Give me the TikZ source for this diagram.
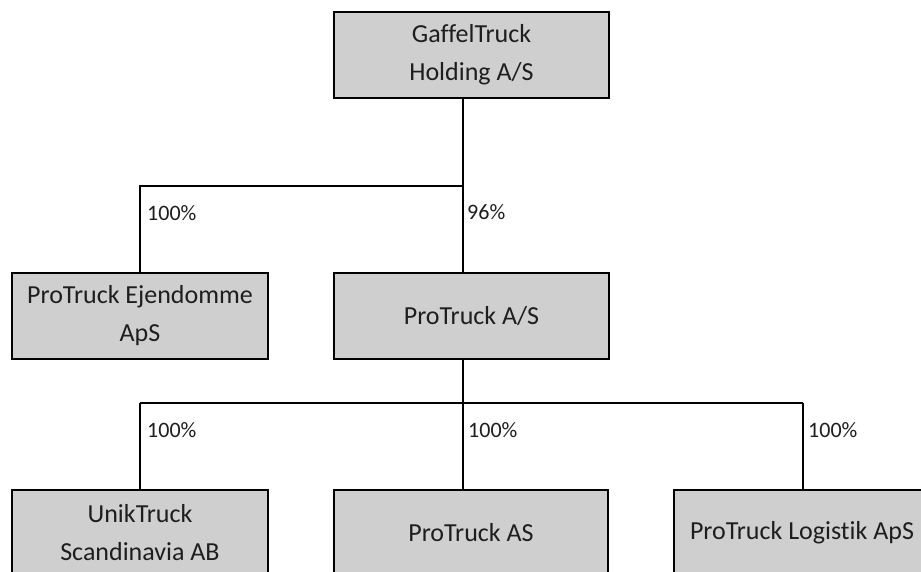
\documentclass[tikz,border=0pt]{standalone}
\usepackage{fontspec}
\setmainfont[Ligatures=NoCommon]{Carlito}
\definecolor{boxfill}{RGB}{208,207,207}
\definecolor{txt}{RGB}{30,30,30}
\tikzset{
  company/.style={draw=black, line width=1.8pt, fill=boxfill, inner sep=0pt,
    align=center, text=txt, font=\fontsize{26}{38}\selectfont},
  pct/.style={anchor=west, inner sep=0pt, text=txt, font=\fontsize{22}{26}\selectfont},
  link/.style={draw=black, line width=1.6pt}
}
\begin{document}
\begin{tikzpicture}[x=1pt, y=1pt]
\clip (0,0) rectangle (921,-571);
\fill[white] (0,0) rectangle (921,-571);
% boxes
\node[company, minimum width=275pt, minimum height=86pt] (top) at (471.5,-55) {GaffelTruck\\Holding A/S};
\node[company, minimum width=256pt, minimum height=86pt] (ejd) at (140,-316) {ProTruck Ejendomme\\ApS};
\node[company, minimum width=275pt, minimum height=86pt] (pta) at (471.5,-316) {ProTruck A/S};
\node[company, minimum width=256pt, minimum height=86pt] (unik) at (140,-533) {UnikTruck\\Scandinavia AB};
\node[company, minimum width=274pt, minimum height=86pt] (ptas) at (471,-533) {ProTruck AS};
\node[company, minimum width=256pt, minimum height=86pt] (log) at (802,-533) {ProTruck Logistik ApS};
% junctions
\coordinate (j1) at (463,-186);
\coordinate (j1l) at (140,-186);
\coordinate (j2) at (463,-403);
\coordinate (j2l) at (140,-403);
\coordinate (j2r) at (803,-403);
% connectors
\draw[link] (top.south -| j1) -- (pta.north -| j1);
\draw[link] (j1) -- (j1l) -- (ejd.north);
\draw[link] (pta.south -| j2) -- (ptas.north -| j2);
\draw[link] (j2l) -- (j2r);
\draw[link] (j2l) -- (unik.north);
\draw[link] (j2r) -- (log.north -| j2r);
% percentages
\node[pct] (p1) at (147,-213) {100\%};
\node[pct] (p2) at (467,-212) {96\%};
\node[pct] (p3) at (147,-430) {100\%};
\node[pct] (p4) at (468,-430) {100\%};
\node[pct] (p5) at (808,-430) {100\%};
\end{tikzpicture}
\end{document}
